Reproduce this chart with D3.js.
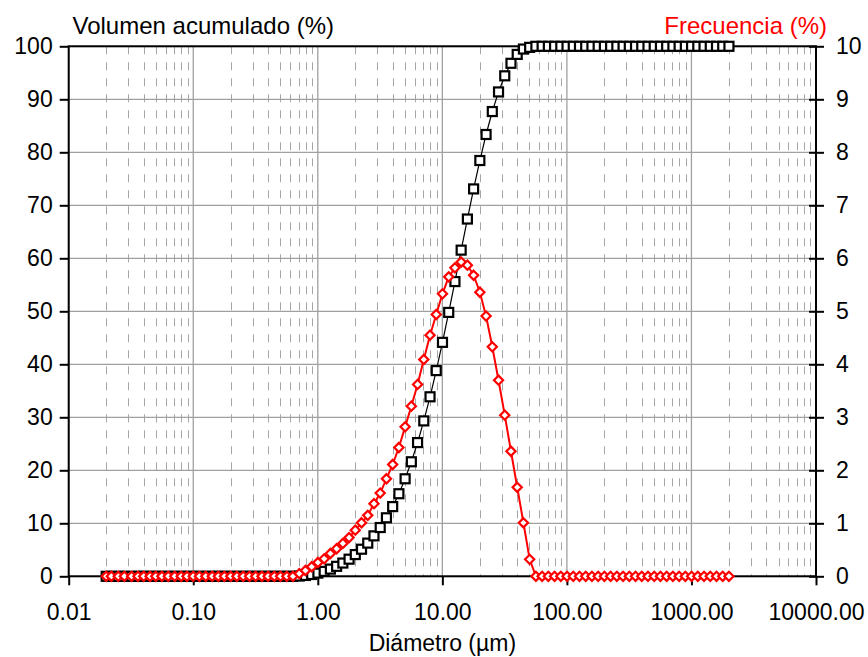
<!DOCTYPE html>
<html><head><meta charset="utf-8">
<script src="https://cdn.jsdelivr.net/npm/d3@7"></script>
<style>body{margin:0;background:#fff}svg{display:block}</style>
</head><body>
<svg id="c" width="868" height="657"></svg>
<script>
// Particle diameters (µm)
const diameters = [0.020,0.022,0.025,0.028,0.032,0.036,0.040,0.045,0.050,0.056,0.063,0.071,0.080,0.089,0.100,0.112,0.126,0.142,0.159,0.178,0.200,0.224,0.252,0.283,0.317,0.356,0.399,0.448,0.502,0.564,0.632,0.710,0.796,0.893,1.002,1.125,1.262,1.416,1.589,1.783,2.000,2.244,2.518,2.825,3.170,3.557,3.991,4.477,5.024,5.637,6.325,7.096,7.962,8.934,10.024,11.247,12.619,14.159,15.887,17.825,20.000,22.440,25.179,28.251,31.698,35.566,39.905,44.774,50.238,56.368,63.246,70.963,79.621,89.337,100.237,112.468,126.191,141.589,158.866,178.250,200.000,224.404,251.785,282.508,316.979,355.656,399.052,447.744,502.377,563.677,632.456,709.627,796.214,893.367,1002.374,1124.683,1261.915,1415.892,1588.656,1782.502,2000.000];
// Volumen acumulado (%) – left axis
const volumenAcumulado = [0,0,0,0,0,0,0,0,0,0,0,0,0,0,0,0,0,0,0,0,0,0,0,0,0,0,0,0,0,0,0,0.05,0.16,0.34,0.60,0.93,1.36,1.88,2.50,3.23,4.10,5.11,6.26,7.63,9.20,11.04,13.15,15.58,18.40,21.61,25.23,29.32,33.87,38.81,44.14,49.79,55.61,61.54,67.41,73.09,78.45,83.36,87.69,91.39,94.43,96.79,98.47,99.48,99.80,100,100,100,100,100,100,100,100,100,100,100,100,100,100,100,100,100,100,100,100,100,100,100,100,100,100,100,100,100,100,100,100];
// Frecuencia (%) – right axis
const frecuencia = [0,0,0,0,0,0,0,0,0,0,0,0,0,0,0,0,0,0,0,0,0,0,0,0,0,0,0,0,0,0,0,0.05,0.11,0.18,0.26,0.33,0.43,0.52,0.62,0.73,0.87,1.01,1.15,1.37,1.57,1.84,2.11,2.43,2.82,3.21,3.62,4.09,4.55,4.94,5.33,5.65,5.82,5.93,5.87,5.68,5.36,4.91,4.33,3.70,3.04,2.36,1.68,1.01,0.32,0,0,0,0,0,0,0,0,0,0,0,0,0,0,0,0,0,0,0,0,0,0,0,0,0,0,0,0,0,0,0,0];
const xTickValues = [0.01,0.1,1,10,100,1000,10000];
const xTickLabels = ["0.01","0.10","1.00","10.00","100.00","1000.00","10000.00"];
const yLeftTicks = [0,10,20,30,40,50,60,70,80,90,100];
const yRightTicks = [0,1,2,3,4,5,6,7,8,9,10];

const L = 68.7, R = 816, T = 46.3, B = 576.3;
const FONT = "'Liberation Sans', Arial, sans-serif";
const svg = d3.select("#c");
const x = d3.scaleLog().domain([0.01, 10000]).range([L, R]);
const yL = d3.scaleLinear().domain([0, 100]).range([B, T]);
const yR = d3.scaleLinear().domain([0, 10]).range([B, T]);

// minor vertical grid (dashed)
const minor = [];
xTickValues.slice(0, -1).forEach(d => { for (let k = 2; k <= 9; k++) minor.push(d * k); });
svg.append("g").selectAll("line").data(minor).join("line")
  .attr("x1", d => Math.round(x(d)) + 0.5).attr("x2", d => Math.round(x(d)) + 0.5)
  .attr("y1", T).attr("y2", B)
  .attr("stroke", "#a6a6a6").attr("stroke-width", 1).attr("stroke-dasharray", "8,8");
// major vertical grid
svg.append("g").selectAll("line").data(xTickValues).join("line")
  .attr("x1", d => x(d)).attr("x2", d => x(d)).attr("y1", T).attr("y2", B)
  .attr("stroke", "#a0a0a0").attr("stroke-width", 1.3);
// horizontal grid
svg.append("g").selectAll("line").data(yLeftTicks).join("line")
  .attr("x1", L).attr("x2", R).attr("y1", d => yL(d)).attr("y2", d => yL(d))
  .attr("stroke", "#a0a0a0").attr("stroke-width", 1.3);

// frame
svg.append("rect").attr("x", L).attr("y", T).attr("width", R - L).attr("height", B - T)
  .attr("fill", "none").attr("stroke", "#000").attr("stroke-width", 2);

// axes
const ax = d3.axisBottom(x).tickValues(xTickValues).tickFormat((d, i) => xTickLabels[i]).tickSize(9).tickPadding(18);
const gx = svg.append("g").attr("transform", `translate(0,${B})`).call(ax);
const ayl = d3.axisLeft(yL).tickValues(yLeftTicks).tickSize(9).tickPadding(7);
const gyl = svg.append("g").attr("transform", `translate(${L},0)`).call(ayl);
const ayr = d3.axisRight(yR).tickValues(yRightTicks).tickSize(8).tickPadding(12);
const gyr = svg.append("g").attr("transform", `translate(${R},0)`).call(ayr);
gyr.selectAll(".tick line").attr("x1", -7);
[gx, gyl, gyr].forEach(g => {
  g.select(".domain").remove();
  g.selectAll(".tick line").attr("stroke", "#000").attr("stroke-width", 2);
  g.selectAll("text").attr("fill", "#000").style("font-family", FONT).style("font-size", "23px");
});

// series: cumulative
const lineL = d3.line().x((d, i) => x(diameters[i])).y(d => yL(d));
const lineR = d3.line().x((d, i) => x(diameters[i])).y(d => yR(d));
svg.append("path").attr("d", lineL(volumenAcumulado)).attr("fill", "none").attr("stroke", "#000").attr("stroke-width", 1.2);
const q = 4.5;
svg.append("g").selectAll("rect").data(volumenAcumulado).join("rect")
  .attr("x", (d, i) => x(diameters[i]) - q).attr("y", d => yL(d) - q)
  .attr("width", 2 * q).attr("height", 2 * q)
  .attr("fill", "#fff").attr("stroke", "#000").attr("stroke-width", 2.2);

// series: frequency
svg.append("path").attr("d", lineR(frecuencia)).attr("fill", "none").attr("stroke", "#ff0000").attr("stroke-width", 2);
const s = 4.6;
svg.append("g").selectAll("path").data(frecuencia).join("path")
  .attr("transform", (d, i) => `translate(${x(diameters[i])},${yR(d)})`)
  .attr("d", `M0,${-s}L${s},0L0,${s}L${-s},0Z`)
  .attr("fill", "#fff").attr("stroke", "#ff0000").attr("stroke-width", 2.2);

// titles
svg.append("text").attr("x", 72.5).attr("y", 33.5).text("Volumen acumulado (%)")
  .style("font-family", FONT).style("font-size", "24px").attr("fill", "#000");
svg.append("text").attr("x", 827).attr("y", 33.5).attr("text-anchor", "end").text("Frecuencia (%)")
  .style("font-family", FONT).style("font-size", "24px").attr("fill", "#ff0000");
svg.append("text").attr("x", (L + R) / 2).attr("y", 651).attr("text-anchor", "middle").text("Diámetro (µm)")
  .style("font-family", FONT).style("font-size", "23px").attr("fill", "#000");
</script>
</body></html>
